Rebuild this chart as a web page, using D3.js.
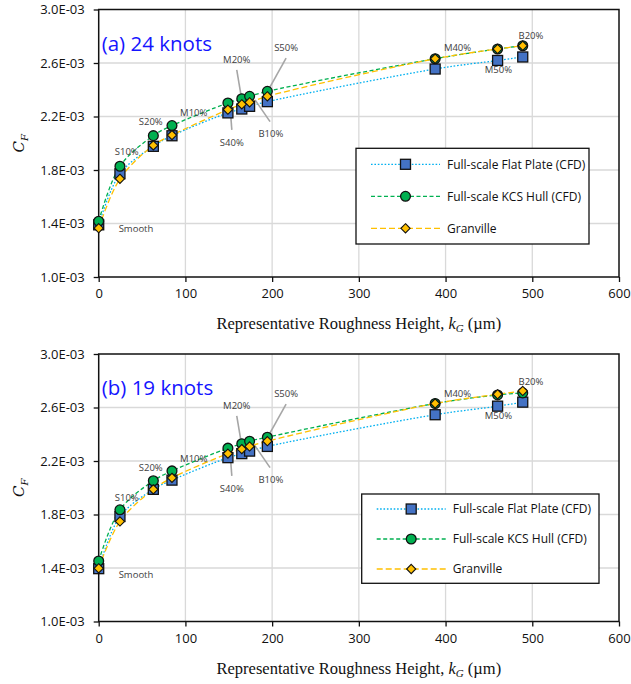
<!DOCTYPE html>
<html>
<head>
<meta charset="utf-8">
<script src="https://cdn.jsdelivr.net/npm/d3@7/dist/d3.min.js"></script>
<style>
  html, body { margin: 0; padding: 0; background: #ffffff; }
  svg { display: block; }
  text { font-family: "Open Sans", "Noto Sans", sans-serif; }
</style>
</head>
<body>
<svg id="chart" width="631" height="684"></svg>
<script>
// Roughness conditions and their representative roughness height kG (µm)
const conditions = ["Smooth", "S10%", "S20%", "M10%", "S40%", "M20%", "B10%", "S50%", "M40%", "M50%", "B20%"];
const kG = [0, 24.5, 63, 84.5, 149, 165, 174, 194.5, 388, 460, 489];

// Frictional resistance coefficient CF at 24 knots
const flatPlate24 = [0.001390, 0.001772, 0.001977, 0.002056, 0.002227, 0.002256, 0.002276, 0.002311, 0.002555, 0.002619, 0.002645];
const kcsHull24   = [0.001417, 0.001828, 0.002057, 0.002132, 0.002301, 0.002333, 0.002351, 0.002388, 0.002632, 0.002705, 0.002729];
const granville24 = [0.001365, 0.001734, 0.001984, 0.002061, 0.002251, 0.002291, 0.002306, 0.002351, 0.002632, 0.002705, 0.002729];

// Frictional resistance coefficient CF at 19 knots
const flatPlate19 = [0.001395, 0.001785, 0.001988, 0.002057, 0.002225, 0.002255, 0.002274, 0.002309, 0.002546, 0.002610, 0.002640];
const kcsHull19   = [0.001452, 0.001835, 0.002052, 0.002126, 0.002296, 0.002329, 0.002348, 0.002378, 0.002630, 0.002694, 0.002709];
const granville19 = [0.001398, 0.001748, 0.001988, 0.002074, 0.002255, 0.002289, 0.002309, 0.002348, 0.002630, 0.002699, 0.002724];

// Axis ticks
const xTicks = [0, 100, 200, 300, 400, 500, 600];
const yTicks = [0.0010, 0.0014, 0.0018, 0.0022, 0.0026, 0.0030];
const yTickLabels = ["1.0E-03", "1.4E-03", "1.8E-03", "2.2E-03", "2.6E-03", "3.0E-03"];

const seriesNames = ["Full-scale Flat Plate (CFD)", "Full-scale KCS Hull (CFD)", "Granville"];
const panelTitles = ["(a) 24 knots", "(b) 19 knots"];

// Where each condition name sits (in axis units), plus leader lines for the crowded group
const labelAt = {
  "Smooth": [43, 0.001361], "S10%": [32.3, 0.001938], "S20%": [60, 0.002158],
  "M10%": [109.6, 0.002229], "S40%": [153.5, 0.002005], "M20%": [159.2, 0.002623],
  "B10%": [198.5, 0.002070], "S50%": [216.1, 0.002718], "M40%": [413.8, 0.002715],
  "M50%": [461, 0.002548], "B20%": [498.5, 0.002804]
};
const leaders = {
  "S40%": [[151.5, 0.002274], [153.5, 0.002100]],
  "M20%": [[159.2, 0.002548], [165, 0.002324]],
  "B10%": [[180.3, 0.002324], [197.6, 0.002162]],
  "S50%": [[216.1, 0.002636], [195.7, 0.002399]]
};

const svg = d3.select("#chart");

const seriesStyle = [
  { line: "#00B0F0", dash: "1.6,1.8", width: 1.3, marker: "square", fill: "#4472C4" },
  { line: "#00B050", dash: "4,2.5",   width: 1.3, marker: "circle", fill: "#00B050" },
  { line: "#FFC000", dash: "6,3",     width: 1.3, marker: "diamond", fill: "#FFC000" }
];

function drawMarker(g, type, x, y, fill) {
  if (type === "square") {
    g.append("rect").attr("x", x - 5).attr("y", y - 5).attr("width", 10).attr("height", 10)
      .attr("fill", fill).attr("stroke", "#111").attr("stroke-width", 1.3);
  } else if (type === "circle") {
    g.append("circle").attr("cx", x).attr("cy", y).attr("r", 4.9)
      .attr("fill", fill).attr("stroke", "#111").attr("stroke-width", 1.3);
  } else {
    const s = 4.6;
    g.append("path").attr("d", `M${x},${y - s}L${x + s},${y}L${x},${y + s}L${x - s},${y}Z`)
      .attr("fill", fill).attr("stroke", "#111").attr("stroke-width", 1.1);
  }
}

function drawPanel(cfg) {
  const x = d3.scaleLinear().domain([0, 600]).range([98.7, 619]);
  const y = d3.scaleLinear().domain([0.0010, 0.0030]).range([cfg.bottom, cfg.top]);
  const g = svg.append("g");

  // gridlines
  g.append("g").selectAll("line.vx").data(xTicks.slice(1, -1)).join("line")
    .attr("x1", d => x(d)).attr("x2", d => x(d)).attr("y1", cfg.top).attr("y2", cfg.bottom)
    .attr("stroke", "#d9d9d9").attr("stroke-width", 1.3);
  g.append("g").selectAll("line.hy").data(yTicks.slice(1, -1)).join("line")
    .attr("x1", x(0)).attr("x2", x(600)).attr("y1", d => y(d)).attr("y2", d => y(d))
    .attr("stroke", "#d9d9d9").attr("stroke-width", 1.3);

  // axes
  const xAxis = d3.axisBottom(x).tickValues(xTicks).tickSize(5).tickPadding(7).tickFormat(d3.format("d"));
  const yAxis = d3.axisLeft(y).tickValues(yTicks).tickSize(5).tickPadding(9)
    .tickFormat((d, i) => yTickLabels[i]);
  const gx = g.append("g").attr("transform", `translate(0,${cfg.bottom})`).call(xAxis);
  const gy = g.append("g").attr("transform", `translate(${x(0)},0)`).call(yAxis);
  [gx, gy].forEach(a => {
    a.select(".domain").remove();
    a.selectAll(".tick line").attr("stroke", "#111").attr("stroke-width", 1.3);
    a.selectAll(".tick text").attr("fill", "#111").style("font-size", "13px")
      .style("font-family", "'Open Sans', sans-serif");
  });

  // plot frame
  g.append("rect").attr("x", x(0)).attr("y", cfg.top).attr("width", x(600) - x(0))
    .attr("height", cfg.bottom - cfg.top).attr("fill", "none").attr("stroke", "#111").attr("stroke-width", 1.5);

  // axis titles
  const yl = g.append("text")
    .attr("transform", `translate(24,${(cfg.top + cfg.bottom) / 2}) rotate(-90)`)
    .attr("text-anchor", "middle").attr("fill", "#111")
    .style("font-family", "'DejaVu Serif', 'Liberation Serif', serif").style("font-style", "italic")
    .style("font-size", "15px");
  yl.append("tspan").text("C");
  yl.append("tspan").attr("dy", 4).style("font-size", "10px").text("F");

  const xl = g.append("text").attr("x", (x(0) + x(600)) / 2).attr("y", cfg.bottom + 52)
    .attr("text-anchor", "middle").attr("fill", "#111")
    .style("font-family", "'Liberation Serif', 'DejaVu Serif', serif").style("font-size", "16.5px");
  xl.append("tspan").text("Representative Roughness Height, ");
  xl.append("tspan").style("font-style", "italic").text("k");
  xl.append("tspan").attr("dy", 3).style("font-style", "italic").style("font-size", "11px").text("G");
  xl.append("tspan").attr("dy", -3).text(" (\u00B5m)");

  // panel title
  g.append("text").attr("x", x(0) + 3).attr("y", cfg.top + 41).attr("fill", "#1515ff")
    .style("font-size", "20.5px").text(cfg.title);

  // series curves
  const line = d3.line().x(d => x(d[0])).y(d => y(d[1])).curve(d3.curveCatmullRom.alpha(0.5));
  cfg.series.forEach((vals, si) => {
    const st = seriesStyle[si];
    g.append("path").datum(kG.map((k, i) => [k, vals[i]])).attr("d", line)
      .attr("fill", "none").attr("stroke", st.line).attr("stroke-width", st.width)
      .attr("stroke-dasharray", st.dash);
  });

  // leader lines
  Object.entries(leaders).forEach(([name, pts]) => {
    g.append("line").attr("x1", x(pts[0][0])).attr("y1", y(pts[0][1]) + cfg.labelShift)
      .attr("x2", x(pts[1][0])).attr("y2", y(pts[1][1]) + cfg.labelShift)
      .attr("stroke", "#a6a6a6").attr("stroke-width", 1.6);
  });

  // markers
  cfg.series.forEach((vals, si) => {
    const st = seriesStyle[si];
    const mg = g.append("g");
    vals.forEach((v, i) => drawMarker(mg, st.marker, x(kG[i]), y(v), st.fill));
  });

  // condition labels
  conditions.forEach(name => {
    const p = labelAt[name];
    g.append("text").attr("x", x(p[0])).attr("y", y(p[1]) + cfg.labelShift).attr("dy", "0.35em")
      .attr("text-anchor", "middle").attr("fill", "#404040").style("font-size", "9.5px").text(name);
  });

  // legend
  const L = cfg.legend;
  const lg = g.append("g");
  lg.append("rect").attr("x", L.x).attr("y", L.y).attr("width", L.w).attr("height", L.h)
    .attr("fill", "#fff").attr("stroke", "#111").attr("stroke-width", 1.3);
  seriesNames.forEach((name, si) => {
    const st = seriesStyle[si];
    const ry = L.y + L.row0 + si * L.step;
    lg.append("line").attr("x1", L.x + 15).attr("x2", L.x + 84).attr("y1", ry).attr("y2", ry)
      .attr("stroke", st.line).attr("stroke-width", st.width).attr("stroke-dasharray", st.dash);
    drawMarker(lg, st.marker, L.x + 49.5, ry, st.fill);
    lg.append("text").attr("x", L.x + 91).attr("y", ry).attr("dy", "0.35em")
      .attr("fill", "#111").style("font-size", "12px").text(name);
  });
}

drawPanel({
  top: 9.5, bottom: 277, title: panelTitles[0], labelShift: 0,
  series: [flatPlate24, kcsHull24, granville24],
  legend: { x: 356, y: 148.3, w: 233, h: 95.7, row0: 16, step: 32 }
});
drawPanel({
  top: 354, bottom: 621.5, title: panelTitles[1], labelShift: 1.5,
  series: [flatPlate19, kcsHull19, granville19],
  legend: { x: 361.7, y: 494, w: 237.3, h: 89.3, row0: 15, step: 30 }
});
</script>
</body>
</html>
